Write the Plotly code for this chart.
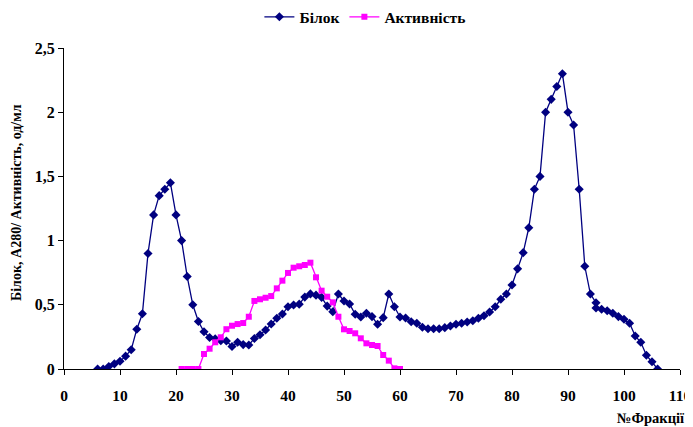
import plotly.graph_objects as go

# Білок (protein, A280) by fraction number
protein_x = [6, 7, 8, 9, 10, 11, 12, 13, 14, 15, 16, 17, 18, 19, 20, 21, 22, 23, 24, 25,
             26, 27, 28, 29, 30, 31, 32, 33, 34, 35, 36, 37, 38, 39, 40, 41, 42, 43, 44, 45,
             46, 47, 48, 49, 50, 51, 52, 53, 54, 55, 56, 57, 58, 59, 60, 61, 62, 63, 64, 65,
             66, 67, 68, 69, 70, 71, 72, 73, 74, 75, 76, 77, 78, 79, 80, 81, 82, 83, 84, 85,
             86, 87, 88, 89, 90, 91, 92, 93, 94, 95, 95, 96, 97, 98, 99, 100, 101, 102, 103, 104,
             105, 106]
protein_y = [0.0, 0.0, 0.02, 0.04, 0.06, 0.10, 0.15, 0.31, 0.43, 0.90, 1.20, 1.35, 1.40, 1.45, 1.20, 1.00, 0.72, 0.50, 0.37, 0.29,
             0.245, 0.235, 0.22, 0.218, 0.175, 0.208, 0.19, 0.187, 0.238, 0.267, 0.304, 0.35, 0.395, 0.428, 0.485, 0.498, 0.505, 0.56, 0.585, 0.575,
             0.558, 0.49, 0.446, 0.584, 0.53, 0.506, 0.426, 0.405, 0.434, 0.408, 0.348, 0.40, 0.584, 0.485, 0.405, 0.397, 0.368, 0.356, 0.325, 0.314,
             0.314, 0.314, 0.322, 0.335, 0.348, 0.356, 0.366, 0.376, 0.395, 0.415, 0.444, 0.485, 0.543, 0.584, 0.654, 0.78, 0.906, 1.10, 1.40, 1.50,
             2.00, 2.10, 2.20, 2.30, 2.00, 1.90, 1.40, 0.80, 0.584, 0.516, 0.475, 0.465, 0.454, 0.434, 0.408, 0.387, 0.356, 0.257, 0.208, 0.107,
             0.057, 0.0]

# Активність (activity, од/мл) by fraction number
activity_x = [21, 22, 23, 24, 25, 26, 27, 28, 29, 30, 31, 32, 33, 34, 35, 36, 37, 38, 39, 40,
              41, 42, 43, 44, 45, 46, 47, 48, 49, 50, 51, 52, 53, 54, 55, 56, 57, 58, 59, 60]
activity_y = [0.0, 0.0, 0.0, 0.0, 0.117, 0.158, 0.208, 0.247, 0.31, 0.337, 0.35, 0.358, 0.407, 0.53, 0.543, 0.555, 0.568, 0.628, 0.688, 0.748,
              0.789, 0.80, 0.81, 0.828, 0.714, 0.61, 0.563, 0.519, 0.407, 0.309, 0.296, 0.278, 0.239, 0.20, 0.187, 0.179, 0.109, 0.065, 0.005, 0.0]

x_ticks = [0, 10, 20, 30, 40, 50, 60, 70, 80, 90, 100, 110]
y_ticks = [0, 0.5, 1, 1.5, 2, 2.5]
y_ticktext = ["0", "0,5", "1", "1,5", "2", "2,5"]

font_family = "Liberation Serif"

fig = go.Figure()
fig.add_trace(go.Scatter(
    x=protein_x, y=protein_y, mode="lines+markers", name="<b>Білок</b>",
    line=dict(color="#000080", width=1.3),
    marker=dict(symbol="diamond", size=7, color="#000080"),
))
fig.add_trace(go.Scatter(
    x=activity_x, y=activity_y, mode="lines+markers", name="<b>Активність</b>",
    line=dict(color="#FF00FF", width=1.3),
    marker=dict(symbol="square", size=6, color="#FF00FF"),
))

# the page body adds an 8px margin; the figure is sized to fit inside the window
fig.update_layout(
    width=685, height=419,
    margin=dict(l=56, r=13, t=40, b=58, autoexpand=False),
    plot_bgcolor="white", paper_bgcolor="white",
    font=dict(family=font_family, size=16, color="black"),
    showlegend=True,
    legend=dict(orientation="h", x=0.521, xanchor="center", xref="container",
                y=0.978, yanchor="middle", yref="container",
                font=dict(family=font_family, size=15.5, color="black"),
                itemwidth=30, tracegroupgap=0),
    xaxis=dict(range=[0, 110], tickvals=x_ticks, ticktext=[f"<b>{v}</b>" for v in x_ticks],
               showgrid=False, zeroline=False, showline=True, linecolor="black", linewidth=1,
               ticks="outside", ticklen=5, tickcolor="black", ticklabelstandoff=7,
               automargin=False, tickfont=dict(size=15.5)),
    yaxis=dict(range=[0, 2.5], tickvals=y_ticks, ticktext=[f"<b>{t}</b>" for t in y_ticktext],
               showgrid=False, zeroline=False, showline=True, linecolor="black", linewidth=1,
               ticks="outside", ticklen=5, tickcolor="black", ticklabelstandoff=0,
               automargin=False, tickfont=dict(size=16)),
    annotations=[
        dict(text="<b>№Фракції</b>", xref="paper", yref="paper", x=1.011, y=-0.152,
             xanchor="right", yanchor="middle", showarrow=False,
             font=dict(family=font_family, size=14.5)),
        dict(text="<b>Білок, А280/ Активність, од/мл</b>", xref="paper", yref="paper",
             x=-0.078, y=0.52, xanchor="center", yanchor="middle", textangle=-90,
             showarrow=False, font=dict(family=font_family, size=14)),
    ],
)

fig.write_html("out.html")
